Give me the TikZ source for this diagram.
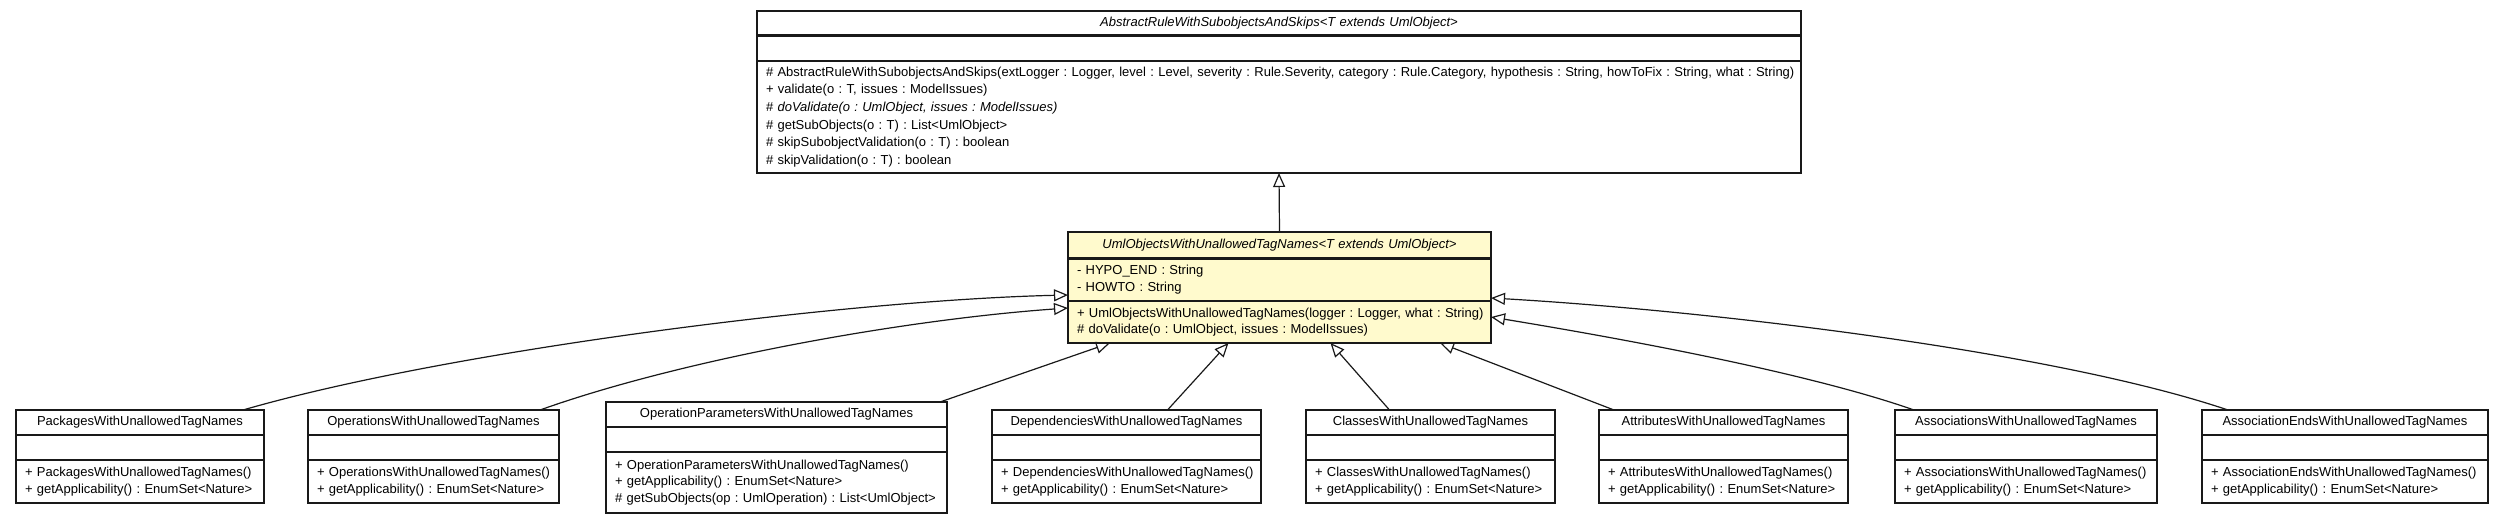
\documentclass[tikz,border=0pt]{standalone}
\usepackage[svgnames]{xcolor}
\usepackage{fontspec}
\setmainfont{Liberation Sans}
\usetikzlibrary{positioning,arrows.meta}
\colorlet{umlfill}{LemonChiffon}
\colorlet{umlline}{black!90}
\frenchspacing

\tikzset{
  umlpart/.style={draw=umlline,line width=1.2pt,outer sep=0pt,inner xsep=9pt,inner ysep=0pt,
    font=\fontsize{13}{16.5}\selectfont,align=left},
  umlname/.style={umlpart,align=center},
  extends/.style={draw=umlline,line width=1.2pt,-{Triangle[open,length=14pt,width=12pt]}},
}

\begin{document}
\begin{tikzpicture}[x=1pt,y=-1pt]
\useasboundingbox (0,0) rectangle (2504,523);
% abstract base class
\node[umlname,font=\fontsize{13}{16.5}\selectfont\itshape,text width=1026pt,minimum height=24pt,anchor=north west]
  (abstractrule) at (757,11) {AbstractRuleWithSubobjectsAndSkips<T extends UmlObject>};
\node[umlpart,text width=1026pt,minimum height=26pt,below=0pt of abstractrule] (abstractrule-a) {};
\node[umlpart,text width=1026pt,minimum height=112pt,below=0pt of abstractrule-a,font=\fontsize{13}{17.6}\selectfont]
  (abstractrule-m) {\mbox{\# AbstractRuleWithSubobjectsAndSkips(extLogger : Logger, level : Level, severity : Rule.Severity, category : Rule.Category, hypothesis : String, howToFix : String, what : String)}\\
  + validate(o : T, issues : ModelIssues)\\
  \# \textit{doValidate(o : UmlObject, issues : ModelIssues)}\\
  \# getSubObjects(o : T) : List<UmlObject>\\
  \# skipSubobjectValidation(o : T) : boolean\\
  \# skipValidation(o : T) : boolean};
\draw[umlline,line width=3pt] (abstractrule.south west) -- (abstractrule.south east);

% generic tag name rule
\node[umlname,fill=umlfill,font=\fontsize{13}{16.5}\selectfont\itshape,text width=405pt,minimum height=26pt,anchor=north west]
  (tagrule) at (1068,232) {UmlObjectsWithUnallowedTagNames<T extends UmlObject>};
\node[umlpart,fill=umlfill,text width=405pt,minimum height=43pt,below=0pt of tagrule] (tagrule-a)
  {- HYPO\_END : String\\- HOWTO : String};
\node[umlpart,fill=umlfill,text width=405pt,minimum height=42pt,below=0pt of tagrule-a] (tagrule-m)
  {\mbox{+ UmlObjectsWithUnallowedTagNames(logger : Logger, what : String)}\\\# doValidate(o : UmlObject, issues : ModelIssues)};
\draw[umlline,line width=3pt] (tagrule.south west) -- (tagrule.south east);

% concrete rules
\foreach[evaluate=\w as \tw using \w-18] \id/\x/\w/\cname in {pkg/16/248/Packages,ops/308/251/Operations,
    dep/992/269/Dependencies,cls/1306/249/Classes,att/1599/249/Attributes,
    asc/1895/262/Associations,ase/2202/286/AssociationEnds} {
  \node[umlname,text width=\tw pt,minimum height=25pt,anchor=north west] (\id) at (\x,410) {\cname WithUnallowedTagNames};
  \node[umlpart,text width=\tw pt,minimum height=25pt,below=0pt of \id] (\id-a) {};
  \node[umlpart,text width=\tw pt,minimum height=43pt,below=0pt of \id-a] (\id-m)
    {\mbox{+ \cname WithUnallowedTagNames()}\\\mbox{+ getApplicability() : EnumSet<Nature>}};
}
\node[umlname,text width=323pt,minimum height=25pt,anchor=north west] (opp) at (606,402) {OperationParametersWithUnallowedTagNames};
\node[umlpart,text width=323pt,minimum height=25pt,below=0pt of opp] (opp-a) {};
\node[umlpart,text width=323pt,minimum height=61pt,below=0pt of opp-a] (opp-m)
  {\mbox{+ OperationParametersWithUnallowedTagNames()}\\+ getApplicability() : EnumSet<Nature>\\\mbox{\# getSubObjects(op : UmlOperation) : List<UmlObject>}};

% generalisations
\draw[extends] (tagrule.north) -- (abstractrule-m.south);
\draw[extends] ([xshift=-21pt]pkg.north east) .. controls (450,350) and (850,300) .. ([yshift=6pt]tagrule-a.south west);
\draw[extends] ([xshift=-19pt]ops.north east) .. controls (680,360) and (900,320) .. ([yshift=-7pt]tagrule-m.north west);
\draw[extends] ([xshift=-7pt]opp.north east) -- ([xshift=42pt]tagrule-m.south west);
\draw[extends] ([xshift=41pt]dep.north) -- ([xshift=-51pt]tagrule-m.south);
\draw[extends] ([xshift=-41pt]cls.north) -- ([xshift=51pt]tagrule-m.south);
\draw[extends] ([xshift=15pt]att.north west) -- ([xshift=-51pt]tagrule-m.south east);
\draw[extends] ([xshift=19pt]asc.north west) .. controls (1800,370) and (1600,335) .. ([yshift=-16pt]tagrule-m.north east);
\draw[extends] ([xshift=26pt]ase.north west) .. controls (2050,350) and (1700,310) .. ([yshift=3pt]tagrule-a.south east);
\end{tikzpicture}
\end{document}
